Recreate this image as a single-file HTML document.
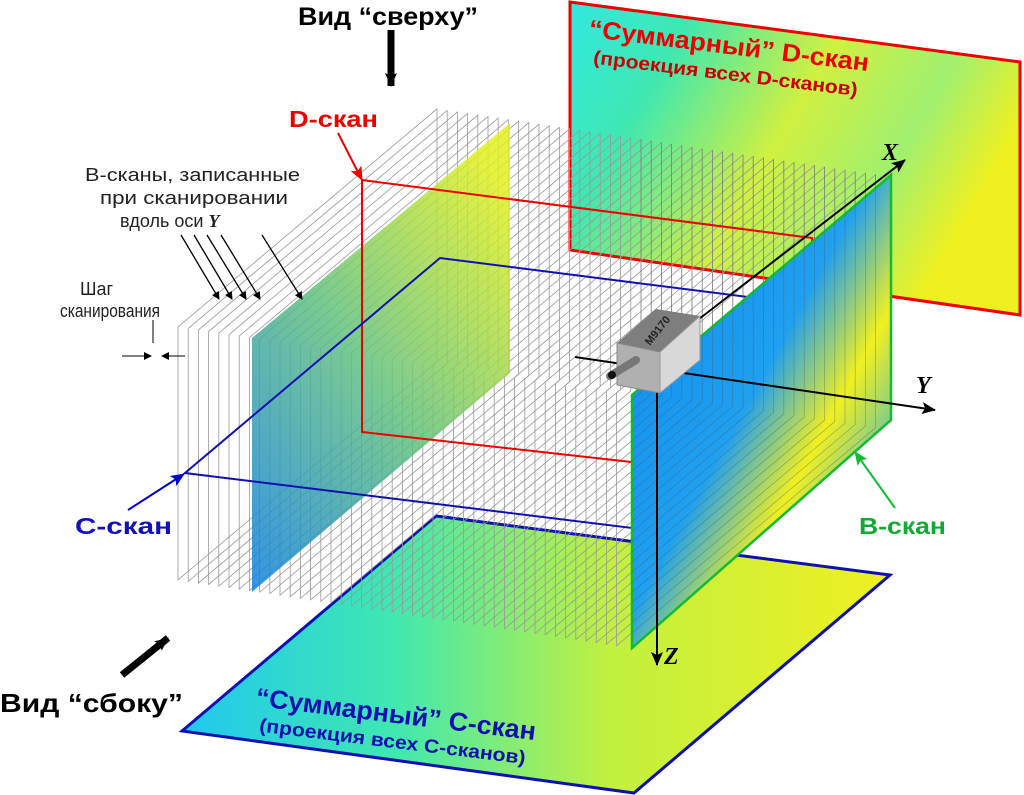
<!DOCTYPE html>
<html><head><meta charset="utf-8"><style>
body{margin:0;background:#fff;}
svg{display:block;font-family:"Liberation Sans",sans-serif;}
</style></head><body>
<svg id="s" width="1024" height="795" viewBox="0 0 1024 795" xmlns="http://www.w3.org/2000/svg">
<defs>
<linearGradient id="gD" x1="0" y1="0" x2="1" y2="0.4">
<stop offset="0" stop-color="#30e8e0"/><stop offset="0.25" stop-color="#40e8b0"/><stop offset="0.55" stop-color="#d0f040"/><stop offset="0.8" stop-color="#a0f070"/><stop offset="1" stop-color="#f0f020"/></linearGradient>
<linearGradient id="gC" x1="0" y1="0" x2="1" y2="0">
<stop offset="0" stop-color="#20c8f0"/><stop offset="0.3" stop-color="#40e8b0"/><stop offset="0.6" stop-color="#c0f040"/><stop offset="1" stop-color="#f0f020"/></linearGradient>
<linearGradient id="gB" x1="0" y1="0.3" x2="0.7" y2="1">
<stop offset="0" stop-color="#1090f0"/><stop offset="0.45" stop-color="#20a0f0"/><stop offset="0.7" stop-color="#f0f020"/><stop offset="1" stop-color="#30b0e0"/></linearGradient>
<linearGradient id="gB2" x1="0" y1="1" x2="0.8" y2="0">
<stop offset="0" stop-color="#1080e0"/><stop offset="0.5" stop-color="#60c080"/><stop offset="1" stop-color="#e0f020"/></linearGradient>
<marker id="ar" markerWidth="8" markerHeight="8" refX="7" refY="4" orient="auto" markerUnits="userSpaceOnUse"><path d="M0,0 L8,4 L0,8 z" fill="#000"/></marker>
<marker id="ar2" markerWidth="14" markerHeight="12" refX="13" refY="6" orient="auto" markerUnits="userSpaceOnUse"><path d="M0,0 L14,6 L0,12 L3,6 z" fill="#000"/></marker>
<marker id="arR" markerWidth="14" markerHeight="12" refX="13" refY="6" orient="auto" markerUnits="userSpaceOnUse"><path d="M0,0 L14,6 L0,12 L3,6 z" fill="#e00"/></marker>
<marker id="arB" markerWidth="14" markerHeight="12" refX="13" refY="6" orient="auto" markerUnits="userSpaceOnUse"><path d="M0,0 L14,6 L0,12 L3,6 z" fill="#00c"/></marker>
<marker id="arG" markerWidth="14" markerHeight="12" refX="13" refY="6" orient="auto" markerUnits="userSpaceOnUse"><path d="M0,0 L14,6 L0,12 L3,6 z" fill="#1b3"/></marker>
</defs>
<!-- summary D -->
<polygon points="570,2 1020,62 1020,315 570,250" fill="url(#gD)" stroke="#e00" stroke-width="3"/>
<!-- summary C -->
<polygon points="182,731 436,516 890,575 634,793" fill="url(#gC)" stroke="#1010b0" stroke-width="3"/>
<g id="planes" fill="none" stroke="#999" stroke-width="0.8"></g>
<polygon points="252,338 510,123 510,373 252,592" fill="url(#gB2)" opacity="0.85"/>
<polygon points="362,180 812,238 812,482 362,432" fill="none" stroke="#e00" stroke-width="2"/>
<polygon points="185,473 440,258 890,315 632,528" fill="none" stroke="#1010b0" stroke-width="2"/>
<polygon points="632,395 891,175 891,420 632,648" fill="url(#gB)" stroke="#1b3" stroke-width="2.5"/>
<g id="planes2" fill="none" stroke="#555" stroke-width="0.7" opacity="0.45"></g>
<line x1="690" y1="326" x2="905" y2="160" stroke="#000" stroke-width="2" marker-end="url(#ar2)"/>
<line x1="575" y1="357" x2="935" y2="410" stroke="#000" stroke-width="2" marker-end="url(#ar2)"/>
<line x1="657" y1="390" x2="657" y2="665" stroke="#000" stroke-width="2" marker-end="url(#ar2)"/>
<text x="882" y="160" font-family="Liberation Serif" font-style="italic" font-weight="bold" font-size="24">X</text>
<text x="916" y="393" font-family="Liberation Serif" font-style="italic" font-weight="bold" font-size="24">Y</text>
<text x="664" y="664" font-family="Liberation Serif" font-style="italic" font-weight="bold" font-size="24">Z</text>
<polygon points="617,343 656,309 700,316 660,352" fill="#7e7e7e"/>
<polygon points="617,343 660,352 660,393 617,385" fill="#b0b0b0" stroke="#888"/>
<polygon points="660,352 700,316 700,360 660,393" fill="#d8d8d8" stroke="#999"/>
<text x="650" y="346" font-size="11" font-weight="bold" fill="#222" transform="rotate(-52 650 346)">M9170</text>
<line x1="610" y1="376" x2="636" y2="360" stroke="#777" stroke-width="8" stroke-linecap="round"/>
<circle cx="612" cy="375" r="4" fill="#111"/>
<text x="298" y="25" font-size="25" font-weight="bold" textLength="180" lengthAdjust="spacingAndGlyphs">Вид “сверху”</text>
<line x1="391" y1="30" x2="391" y2="86" stroke="#000" stroke-width="7" marker-end="url(#ar2)"/>
<g transform="rotate(7 590 37)">
<text x="588" y="37" font-size="25" font-weight="bold" fill="#e00" textLength="282" lengthAdjust="spacingAndGlyphs">“Суммарный” D-скан</text>
<text x="596" y="63" font-size="19" font-weight="bold" fill="#c00" textLength="266" lengthAdjust="spacingAndGlyphs">(проекция всех D-сканов)</text>
</g>
<text x="289" y="127" font-size="23" font-weight="bold" fill="#e00" textLength="89" lengthAdjust="spacingAndGlyphs">D-скан</text>
<line x1="338" y1="133" x2="362" y2="180" stroke="#e00" stroke-width="2" marker-end="url(#arR)"/>
<text x="85" y="181" font-size="18" fill="#222" textLength="215" lengthAdjust="spacingAndGlyphs">B-сканы, записанные</text>
<text x="100" y="204" font-size="18" fill="#222" textLength="188" lengthAdjust="spacingAndGlyphs">при сканировании</text>
<text x="120" y="227" font-size="18" fill="#222">вдоль оси <tspan font-family="Liberation Serif" font-style="italic" font-weight="bold">Y</tspan></text>
<g stroke="#000" stroke-width="1.3">
<line x1="181" y1="235" x2="219" y2="299" marker-end="url(#ar)"/>
<line x1="194" y1="235" x2="232" y2="299" marker-end="url(#ar)"/>
<line x1="207" y1="235" x2="246" y2="299" marker-end="url(#ar)"/>
<line x1="221" y1="235" x2="260" y2="299" marker-end="url(#ar)"/>
<line x1="262" y1="235" x2="302" y2="299" marker-end="url(#ar)"/>
</g>
<text x="80" y="295" font-size="18" fill="#222">Шаг</text>
<text x="60" y="317" font-size="18" fill="#222" textLength="100" lengthAdjust="spacingAndGlyphs">сканирования</text>
<line x1="153" y1="320" x2="153" y2="343" stroke="#000"/>
<line x1="122" y1="356" x2="151" y2="356" stroke="#000" marker-end="url(#ar)"/>
<line x1="185" y1="356" x2="162" y2="356" stroke="#000" marker-end="url(#ar)"/>
<text x="75" y="534" font-size="23" font-weight="bold" fill="#1010c0" textLength="97" lengthAdjust="spacingAndGlyphs">C-скан</text>
<line x1="128" y1="510" x2="184" y2="474" stroke="#00c" stroke-width="2" marker-end="url(#arB)"/>
<text x="859" y="534" font-size="23" font-weight="bold" fill="#1a3" textLength="87" lengthAdjust="spacingAndGlyphs">B-скан</text>
<line x1="895" y1="508" x2="855" y2="452" stroke="#1b3" stroke-width="2" marker-end="url(#arG)"/>
<line x1="122" y1="675" x2="168" y2="638" stroke="#000" stroke-width="7" marker-end="url(#ar2)"/>
<text x="0" y="712" font-size="26" font-weight="bold" textLength="183" lengthAdjust="spacingAndGlyphs">Вид “сбоку”</text>
<g transform="rotate(7 257 705)">
<text x="255" y="706" font-size="26" font-weight="bold" fill="#1010b0" textLength="282" lengthAdjust="spacingAndGlyphs">“Суммарный” C-скан</text>
<text x="262" y="731" font-size="19" font-weight="bold" fill="#1010b0" textLength="268" lengthAdjust="spacingAndGlyphs">(проекция всех C-сканов)</text>
</g>
</svg>
<script>
var g=document.getElementById('planes'),g2=document.getElementById('planes2'),ns='http://www.w3.org/2000/svg';
for(var x=178;x<=625;x+=10.2){
 var y=338+0.15*(x-252);
 var p=document.createElementNS(ns,'polygon');
 p.setAttribute('points',x+','+y+' '+(x+259)+','+(y-218)+' '+(x+259)+','+(y+35)+' '+x+','+(y+253));
 g.appendChild(p);
 var x2=x+259;
 if(x2>632){
  var l=document.createElementNS(ns,'polyline');
  var sx=Math.max(632,x);
  l.setAttribute('points',x2+','+(y-218)+' '+x2+','+(y+35)+' '+sx+','+((y+35)+(253-35)*(x2-sx)/259));
  g2.appendChild(l);
 }
}
</script>
</body></html>
